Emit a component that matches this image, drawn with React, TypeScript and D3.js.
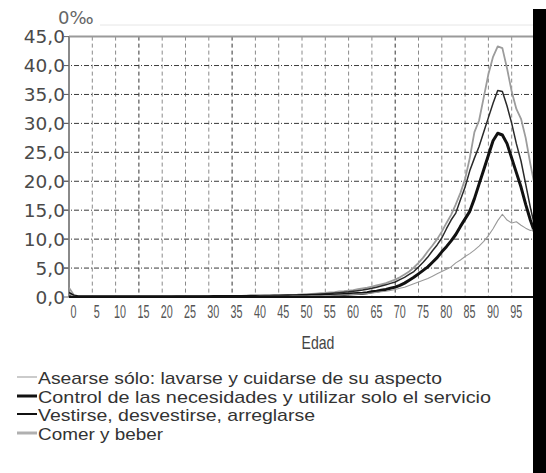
import React from "react";
import * as d3 from "d3";

const AGES: number[] = Array.from({ length: 101 }, (_, i) => i);

const comer = [
  1.6, 0.4, 0.1, 0.1, 0.1, 0.1, 0.1, 0.1, 0.1, 0.1,
  0.1, 0.1, 0.1, 0.1, 0.1, 0.1, 0.1, 0.1, 0.1, 0.1,
  0.1, 0.1, 0.1, 0.1, 0.1, 0.12, 0.12, 0.12, 0.12, 0.15,
  0.15, 0.15, 0.15, 0.18, 0.18, 0.2, 0.2, 0.2, 0.22, 0.22,
  0.25, 0.25, 0.28, 0.28, 0.3, 0.3, 0.32, 0.35, 0.38, 0.4,
  0.45, 0.5, 0.55, 0.6, 0.65, 0.7, 0.8, 0.85, 0.95, 1.0,
  1.1, 1.2, 1.35, 1.5, 1.6, 1.8, 2.0, 2.2, 2.4, 2.7,
  3.0, 3.4, 3.9, 4.4, 5.1, 5.9, 6.8, 7.9, 8.9, 10.0,
  11.3, 12.8, 14.2, 16.0, 18.0, 20.4, 24.0, 28.5, 30.5, 34.5,
  38.5, 41.5, 43.3, 43.0, 39.5, 35.5, 32.5, 30.8, 27.5, 23.0, 19.0,
];

const vestirse = [
  0.8, 0.2, 0.05, 0.05, 0.05, 0.05, 0.05, 0.05, 0.05, 0.05,
  0.05, 0.05, 0.05, 0.05, 0.05, 0.05, 0.05, 0.05, 0.05, 0.05,
  0.06, 0.06, 0.06, 0.07, 0.07, 0.08, 0.08, 0.09, 0.1, 0.1,
  0.1, 0.11, 0.12, 0.13, 0.14, 0.15, 0.16, 0.17, 0.18, 0.19,
  0.2, 0.21, 0.22, 0.23, 0.24, 0.25, 0.27, 0.29, 0.31, 0.34,
  0.37, 0.4, 0.44, 0.48, 0.52, 0.57, 0.62, 0.68, 0.75, 0.82,
  0.9, 1.0, 1.1, 1.2, 1.35, 1.5, 1.7, 1.9, 2.1, 2.35,
  2.6, 3.0, 3.4, 3.9, 4.4, 5.2, 6.0, 6.9, 8.0, 9.0,
  10.2, 11.8, 13.3, 14.5, 16.8, 19.0, 21.8, 24.0, 26.0, 28.5,
  31.0, 33.5, 35.7, 35.5, 33.0, 30.0, 26.5, 23.5, 19.5, 15.5, 12.0,
];

const control = [
  0.6, 0.15, 0.03, 0.03, 0.03, 0.03, 0.03, 0.03, 0.03, 0.03,
  0.03, 0.03, 0.03, 0.03, 0.03, 0.03, 0.03, 0.03, 0.03, 0.03,
  0.04, 0.04, 0.04, 0.04, 0.05, 0.05, 0.05, 0.05, 0.06, 0.06,
  0.06, 0.07, 0.07, 0.08, 0.08, 0.09, 0.09, 0.1, 0.1, 0.11,
  0.11, 0.12, 0.12, 0.13, 0.14, 0.15, 0.16, 0.17, 0.18, 0.19,
  0.2, 0.22, 0.24, 0.26, 0.28, 0.3, 0.33, 0.36, 0.4, 0.45,
  0.5, 0.55, 0.6, 0.65, 0.75, 0.9, 1.0, 1.15, 1.3, 1.5,
  1.7, 2.0, 2.4, 2.9, 3.4, 4.0, 4.6, 5.2, 6.0, 6.8,
  7.8, 8.7, 9.7, 10.8, 12.2, 13.5, 14.8, 17.0, 19.5, 22.0,
  24.5, 27.0, 28.3, 28.0, 26.5, 24.0, 21.5, 19.0, 16.0, 13.3, 11.0,
];

const asearse = [
  0.5, 0.1, 0.02, 0.02, 0.02, 0.02, 0.02, 0.02, 0.02, 0.02,
  0.02, 0.02, 0.02, 0.02, 0.02, 0.02, 0.02, 0.02, 0.02, 0.02,
  0.03, 0.03, 0.03, 0.03, 0.03, 0.04, 0.04, 0.04, 0.04, 0.05,
  0.05, 0.05, 0.06, 0.06, 0.06, 0.07, 0.07, 0.08, 0.08, 0.09,
  0.09, 0.1, 0.1, 0.11, 0.11, 0.12, 0.13, 0.14, 0.15, 0.16,
  0.17, 0.18, 0.19, 0.2, 0.22, 0.24, 0.26, 0.29, 0.32, 0.36,
  0.4, 0.45, 0.5, 0.55, 0.6, 0.7, 0.8, 0.9, 1.0, 1.15,
  1.3, 1.5, 1.7, 2.0, 2.3, 2.6, 2.9, 3.2, 3.6, 4.0,
  4.4, 4.8, 5.2, 5.9, 6.4, 7.0, 7.5, 8.1, 8.8, 9.6,
  10.6, 11.8, 13.2, 14.3, 13.3, 12.8, 13.0, 12.4, 11.9, 11.5, 11.7,
];

const Y_TICKS = [0, 5, 10, 15, 20, 25, 30, 35, 40, 45];
const Y_LABELS = ["0,0", "5,0", "10,0", "15,0", "20,0", "25,0", "30,0", "35,0", "40,0", "45,0"];
const X_TICKS = [0, 5, 10, 15, 20, 25, 30, 35, 40, 45, 50, 55, 60, 65, 70, 75, 80, 85, 90, 95];
const X_LABELS = ["0", "5", "10", "15", "20", "25", "30", "35", "40", "45", "50", "55", "60", "65", "70", "75", "80", "85", "90", "95"];
const DARK_V = [15, 35, 70];

const SERIES = [
  { name: "Asearse sólo: lavarse y cuidarse de su aspecto", values: asearse, color: "#9a9a9a", width: 1.1, legendColor: "#a8a8a8", legendWidth: 1.2, textLen: 404 },
  { name: "Control de las necesidades y utilizar solo el servicio", values: control, color: "#111", width: 3, legendColor: "#111", legendWidth: 3, textLen: 453 },
  { name: "Vestirse, desvestirse, arreglarse", values: vestirse, color: "#2a2a2a", width: 1.5, legendColor: "#111", legendWidth: 2, textLen: 277 },
  { name: "Comer y beber", values: comer, color: "#9c9c9c", width: 1.8, legendColor: "#b0b0b0", legendWidth: 3, textLen: 125 },
];

export default function App() {
  const x = d3.scaleLinear().domain([0, 100]).range([69, 535]);
  const y = d3.scaleLinear().domain([0, 45]).range([297, 36.6]);
  const line = (vals: number[]) =>
    d3
      .line<number>()
      .x((_, i) => x(AGES[i]))
      .y((d) => y(d))(vals) || "";

  const legendY = [377, 396, 414, 433];

  return (
    <svg
      width={546}
      height={473}
      style={{ position: "absolute", left: 0, top: 0, background: "#fff" }}
    >
      <defs>
        <clipPath id="plotClip">
          <rect x={x(0)} y={y(45) - 10} width={x(100) - x(0)} height={y(0) - y(45) + 10} />
        </clipPath>
      </defs>
      <rect x={0} y={0} width={546} height={473} fill="#fff" />
      <line x1={100} x2={533} y1={25} y2={25} stroke="#e6e6e6" strokeWidth={1} />
      {X_TICKS.slice(1).map((t) => (
        <line
          key={"v" + t}
          x1={x(t)}
          x2={x(t)}
          y1={y(45)}
          y2={y(0)}
          stroke={DARK_V.includes(t) ? "#333" : "#8a8a8a"}
          strokeWidth={1}
          strokeDasharray="4,3"
        />
      ))}
      {Y_TICKS.slice(1, -1).map((t) => (
        <line
          key={"h" + t}
          x1={x(0) - 5}
          x2={533}
          y1={y(t)}
          y2={y(t)}
          stroke="#3a3a3a"
          strokeWidth={1}
          strokeDasharray="5,2,1,2"
        />
      ))}
      <line x1={x(0)} x2={533} y1={y(45)} y2={y(45)} stroke="#9a9a9a" strokeWidth={2} />
      <line x1={x(0)} x2={x(0)} y1={y(45)} y2={y(0)} stroke="#8a8a8a" strokeWidth={2} />
      {Y_TICKS.map((t) => (
        <line key={"yt" + t} x1={x(0) - 5} x2={x(0)} y1={y(t)} y2={y(t)} stroke="#666" strokeWidth={1} />
      ))}
      {Y_TICKS.map((t, i) => (
        <text
          key={"yl" + t}
          x={65}
          y={y(t) + 6.5}
          textAnchor="end"
          fontFamily="DejaVu Sans, sans-serif"
          fontSize={18.5}
          fill="#4a4a4a"
        >
          {Y_LABELS[i]}
        </text>
      ))}
      <text x={58} y={24} fontFamily="DejaVu Sans, sans-serif" fontSize={18} fill="#666">
        0‰
      </text>
      <g clipPath="url(#plotClip)">
        {SERIES.slice()
          .reverse()
          .map((s) => (
            <path
              key={s.name}
              d={line(s.values)}
              fill="none"
              stroke={s.color}
              strokeWidth={s.width}
              strokeLinejoin="round"
            />
          ))}
      </g>
      <line x1={x(0)} x2={533} y1={y(0)} y2={y(0)} stroke="#111" strokeWidth={2} />
      {X_TICKS.map((t, i) => (
        <text
          key={"xl" + t}
          transform={`translate(${x(t) + 4.5},318) scale(0.6,1)`}
          textAnchor="middle"
          fontFamily="Liberation Sans, Arial, sans-serif"
          fontSize={18}
          fill="#555"
        >
          {X_LABELS[i]}
        </text>
      ))}
      <text
        transform="translate(318,349) scale(0.78,1)"
        textAnchor="middle"
        fontFamily="Liberation Sans, Arial, sans-serif"
        fontSize={18}
        fill="#444"
      >
        Edad
      </text>
      {SERIES.map((s, i) => (
        <g key={"lg" + i}>
          <line
            x1={17}
            x2={37}
            y1={legendY[i]}
            y2={legendY[i]}
            stroke={s.legendColor}
            strokeWidth={s.legendWidth}
          />
          <text
            x={38}
            y={legendY[i] + 7}
            fontFamily="Liberation Sans, Arial, sans-serif"
            fontSize={17}
            fill="#333"
            textLength={s.textLen}
            lengthAdjust="spacingAndGlyphs"
          >
            {s.name}
          </text>
        </g>
      ))}
      <rect x={533} y={9} width={13} height={464} fill="#000" />
    </svg>
  );
}
